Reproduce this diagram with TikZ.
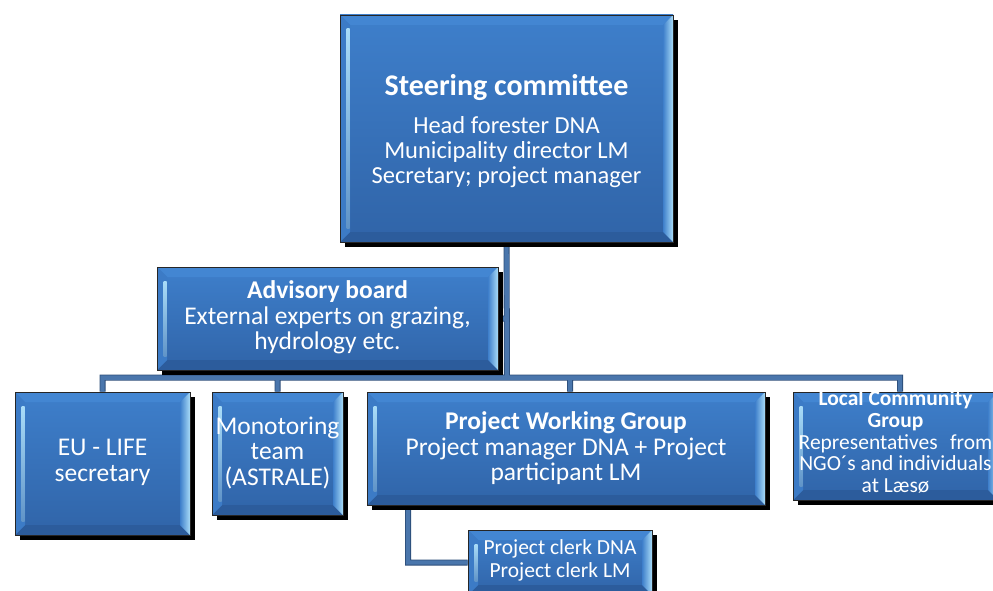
\documentclass[tikz,border=0pt]{standalone}
\usepackage{fontspec}
\setmainfont{Carlito}
\usetikzlibrary{shadows,backgrounds}

\definecolor{facetop}{HTML}{3E7FCB}
\definecolor{facebot}{HTML}{3064A8}
\definecolor{bevtop}{HTML}{4386D2}
\definecolor{bevbot}{HTML}{2C5C9C}
\definecolor{bevlight}{HTML}{A9DCF8}
\definecolor{lineblue}{HTML}{4A76AC}
\definecolor{linedark}{HTML}{2B4C78}

\newcommand{\bw}{10pt}
\newcommand{\ppb}{path picture bounding box}

\tikzset{
  orgbox/.style={
    rectangle, inner sep=0pt,
    draw=black!85, line width=0.8pt,
    top color=facetop, bottom color=facebot,
    drop shadow={shadow xshift=5pt, shadow yshift=-5pt, fill=black, opacity=1},
    path picture={
      % top bevel
      \fill[bevtop] (\ppb.north west) -- (\ppb.north east)
        -- ([xshift=-\bw,yshift=-\bw]\ppb.north east)
        -- ([xshift=\bw,yshift=-\bw]\ppb.north west) -- cycle;
      % bottom bevel
      \fill[bevbot] (\ppb.south west) -- (\ppb.south east)
        -- ([xshift=-\bw,yshift=\bw]\ppb.south east)
        -- ([xshift=\bw,yshift=\bw]\ppb.south west) -- cycle;
      % left bevel with highlight stripe
      \fill[facetop!85!facebot] (\ppb.north west) -- (\ppb.south west)
        -- ([xshift=\bw,yshift=\bw]\ppb.south west)
        -- ([xshift=\bw,yshift=-\bw]\ppb.north west) -- cycle;
      \shade[top color=bevlight, bottom color=bevlight!40!facebot]
        ([xshift=\bw-3.5pt,yshift=-\bw-4pt]\ppb.north west) rectangle
        ([xshift=\bw-0.5pt,yshift=\bw+4pt]\ppb.south west);
      % right bevel
      \shade[left color=facetop, right color=bevlight]
        (\ppb.north east) -- (\ppb.south east)
        -- ([xshift=-\bw,yshift=\bw]\ppb.south east)
        -- ([xshift=-\bw,yshift=-\bw]\ppb.north east) -- cycle;
    }
  },
  lbl/.style={text=white, align=center, inner sep=0pt},
  conn/.style={draw=lineblue, line width=4.4pt, line join=miter,
    preaction={draw=linedark, line width=6pt}},
  big/.style={font=\fontsize{24.5}{25}\selectfont},
  mid/.style={font=\fontsize{25.5}{25.5}\selectfont},
  small/.style={font=\fontsize{21.5}{21.8}\selectfont},
}

\begin{document}
\begin{tikzpicture}[x=1pt,y=-1pt]
  \useasboundingbox (0,0) rectangle (993,591);
  \clip (0,0) rectangle (993,591);

  % boxes
  \node[orgbox, minimum width=333pt, minimum height=227pt] (steer) at (506.5,128.5) {};
  \node[orgbox, minimum width=341pt, minimum height=103pt] (adv) at (327.5,318.5) {};
  \node[orgbox, minimum width=175pt, minimum height=143pt] (eu) at (102.5,463.5) {};
  \node[orgbox, minimum width=131pt, minimum height=123pt] (mon) at (277.5,453.5) {};
  \node[orgbox, minimum width=398pt, minimum height=113pt] (pwg) at (566,448.5) {};
  \node[orgbox, minimum width=205pt, minimum height=108pt] (lcg) at (895.5,446) {};
  \node[orgbox, minimum width=184pt, minimum height=65pt] (clerk) at (560,562.5) {};

  % box texts
  \node[lbl, big] (steer-t) at ([yshift=-3pt]steer.center)
    {{\fontsize{30}{30}\selectfont\bfseries Steering committee}\\[13pt]
     Head forester DNA\\ Municipality director LM\\ Secretary; project manager};
  \node[lbl, mid] (adv-t) at ([yshift=1pt]adv.center)
    {\textbf{Advisory board}\\ External experts on grazing,\\ hydrology etc.};
  \node[lbl, mid] (eu-t) at ([yshift=1pt]eu.center) {EU - LIFE\\ secretary};
  \node[lbl, mid] (mon-t) at ([yshift=1pt]mon.center) {Monotoring\\ team\\ (ASTRALE)};
  \node[lbl, mid] (pwg-t) at ([yshift=0pt]pwg.center)
    {\textbf{Project Working Group}\\ Project manager DNA + Project\\ participant LM};
  \node[lbl, small] (lcg-t) at ([yshift=4pt]lcg.center)
    {\textbf{Local Community}\\ \textbf{Group}\\
     Representatives\hspace{0.35em} from\\ NGO´s and individuals\\ at Læsø};
  \node[lbl, small, font=\fontsize{21.5}{23}\selectfont] (clerk-t) at ([yshift=2pt]clerk.center)
    {Project clerk DNA\\ Project clerk LM};

  \coordinate (bus) at (507,378);

  % connectors
  \begin{scope}[on background layer]
    \draw[conn]
      (steer.south) -- (bus)
      (eu.north) -- ++(0,-14) -| ([xshift=4.5pt]lcg.north)
      (mon.north) -- (mon.north |- bus)
      ([xshift=4pt]pwg.north) -- ([xshift=4pt]pwg.north |- bus)
      (adv.east) -- (adv.east -| bus)
      ([xshift=-158pt]pwg.south) |- (clerk.west);
  \end{scope}
\end{tikzpicture}
\end{document}
